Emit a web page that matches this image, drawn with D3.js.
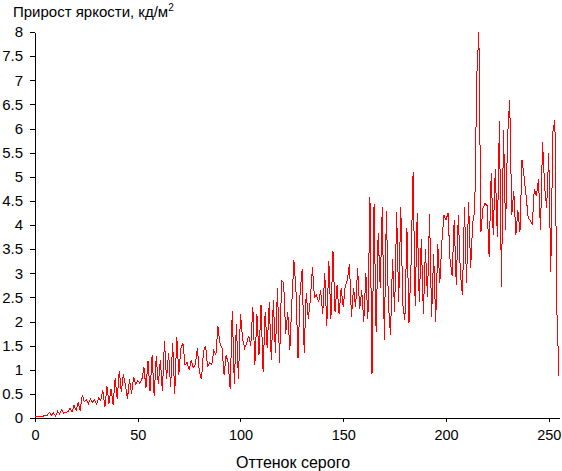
<!DOCTYPE html>
<html><head><meta charset="utf-8">
<script src="https://cdn.jsdelivr.net/npm/d3@7"></script>
<style>
body{margin:0;background:#fff}
svg{display:block}
text{font-family:"Liberation Sans",Arial,sans-serif;fill:#000}
</style>
</head><body><svg id="c" width="562" height="471"></svg>
<script>
const titleText = "Прирост яркости, кд/м";
const titleSup = "2";
const xLabelText = "Оттенок серого";
const xTicks = [0, 50, 100, 150, 200, 250];
const yTicks = [0, 0.5, 1, 1.5, 2, 2.5, 3, 3.5, 4, 4.5, 5, 5.5, 6, 6.5, 7, 7.5, 8];
// brightness increment for gray shades 0..255
const brightnessGain = [
  0.04, 0.04, 0.03, 0.04, 0.04, 0.05, 0.06, 0.12, 0.06, 0.10,
  0.04, 0.14, 0.08, 0.18, 0.10, 0.12, 0.13, 0.20, 0.12, 0.26,
  0.16, 0.33, 0.15, 0.48, 0.34, 0.38, 0.30, 0.40, 0.32, 0.38,
  0.28, 0.42, 0.36, 0.58, 0.22, 0.66, 0.30, 0.60, 0.28, 0.82,
  0.40, 0.98, 0.55, 0.90, 0.68, 0.40, 0.80, 0.50, 0.85, 0.70,
  0.78, 0.72, 0.80, 1.05, 0.62, 1.18, 0.55, 1.30, 0.45, 1.28,
  0.70, 1.20, 0.55, 1.60, 0.80, 1.35, 0.65, 1.55, 0.50, 1.68,
  0.90, 1.45, 1.55, 1.10, 1.15, 1.00, 1.20, 1.05, 1.10, 1.45,
  0.95, 0.80, 1.38, 1.50, 1.05, 1.15, 1.10, 1.40, 1.30, 1.90,
  1.55, 1.45, 0.90, 1.30, 1.15, 0.60, 2.22, 0.70, 1.95, 0.80,
  2.15, 1.65, 1.45, 1.55, 1.70, 1.50, 2.30, 1.10, 2.15, 1.30,
  2.35, 0.95, 2.20, 1.45, 2.40, 1.20, 2.45, 1.35, 2.70, 1.15,
  2.85, 2.80, 1.75, 2.20, 1.40, 2.40, 3.27, 2.65, 1.25, 2.60,
  3.08, 1.35, 2.60, 2.05, 2.45, 3.12, 2.50, 2.55, 2.40, 2.65,
  2.15, 3.00, 1.90, 3.25, 2.05, 3.46, 2.20, 2.75, 2.15, 2.70,
  2.30, 2.75, 2.85, 3.20, 2.10, 2.70, 2.30, 3.10, 2.25, 2.65,
  2.00, 3.00, 2.05, 4.58, 0.92, 4.43, 1.78, 3.83, 2.70, 4.38,
  1.62, 4.28, 2.34, 1.72, 3.30, 2.20, 4.27, 2.40, 4.38, 2.35,
  2.03, 3.94, 1.97, 3.20, 5.10, 2.33, 4.25, 2.40, 3.70, 2.15,
  3.50, 2.50, 4.23, 2.10, 3.40, 2.00, 3.60, 2.80, 3.65, 4.20,
  4.10, 4.25, 3.27, 2.95, 4.10, 2.75, 4.20, 3.00, 2.55, 4.37,
  2.80, 4.47, 3.10, 4.05, 4.30, 7.10, 8.00, 3.85, 4.35, 4.45,
  4.40, 3.33, 5.08, 3.80, 5.17, 3.75, 6.15, 2.72, 5.96, 3.90,
  5.86, 6.60, 4.20, 4.70, 3.80, 4.30, 3.85, 5.35, 5.00, 4.60,
  4.15, 4.10, 4.00, 4.75, 4.60, 4.95, 3.90, 5.72, 4.80, 4.35,
  5.50, 3.03, 5.93, 6.18, 2.17, 0.87
];

const svg = d3.select("#c");
const x = d3.scaleLinear().domain([0, 255]).range([35, 559]);
const y = d3.scaleLinear().domain([0, 8]).range([418, 32]);

// axes
const yAxis = d3.axisLeft(y).tickValues(yTicks).tickSize(5).tickSizeOuter(0).tickPadding(7)
  .tickFormat(d => String(d));
const gy = svg.append("g").attr("transform", "translate(35,0)").call(yAxis);
gy.selectAll("text").attr("font-size", 15).style("font-family", '"Liberation Sans",Arial,sans-serif');

const xAxis = d3.axisBottom(x).tickValues(xTicks).tickSize(4).tickSizeOuter(0).tickPadding(8)
  .tickFormat(d => String(d));
const gx = svg.append("g").attr("transform", "translate(0,418)").call(xAxis);
gx.selectAll("text").attr("font-size", 14.5).style("font-family", '"Liberation Sans",Arial,sans-serif');
svg.selectAll(".domain, .tick line").attr("stroke", "#000").attr("shape-rendering", "crispEdges");

// data line
const line = d3.line().x((d, i) => x(i)).y(d => y(d));
svg.append("path").datum(brightnessGain)
  .attr("d", line)
  .attr("fill", "none")
  .attr("stroke", "#ff0000")
  .attr("stroke-width", 1)
  .attr("shape-rendering", "crispEdges");

// titles
const t = svg.append("text").attr("x", 13).attr("y", 17).attr("font-size", 15);
t.append("tspan").text(titleText);
t.append("tspan").attr("dy", -6).attr("font-size", 10).text(titleSup);

svg.append("text").attr("x", 293).attr("y", 468).attr("text-anchor", "middle")
  .attr("font-size", 16).text(xLabelText);
</script>
</body></html>
